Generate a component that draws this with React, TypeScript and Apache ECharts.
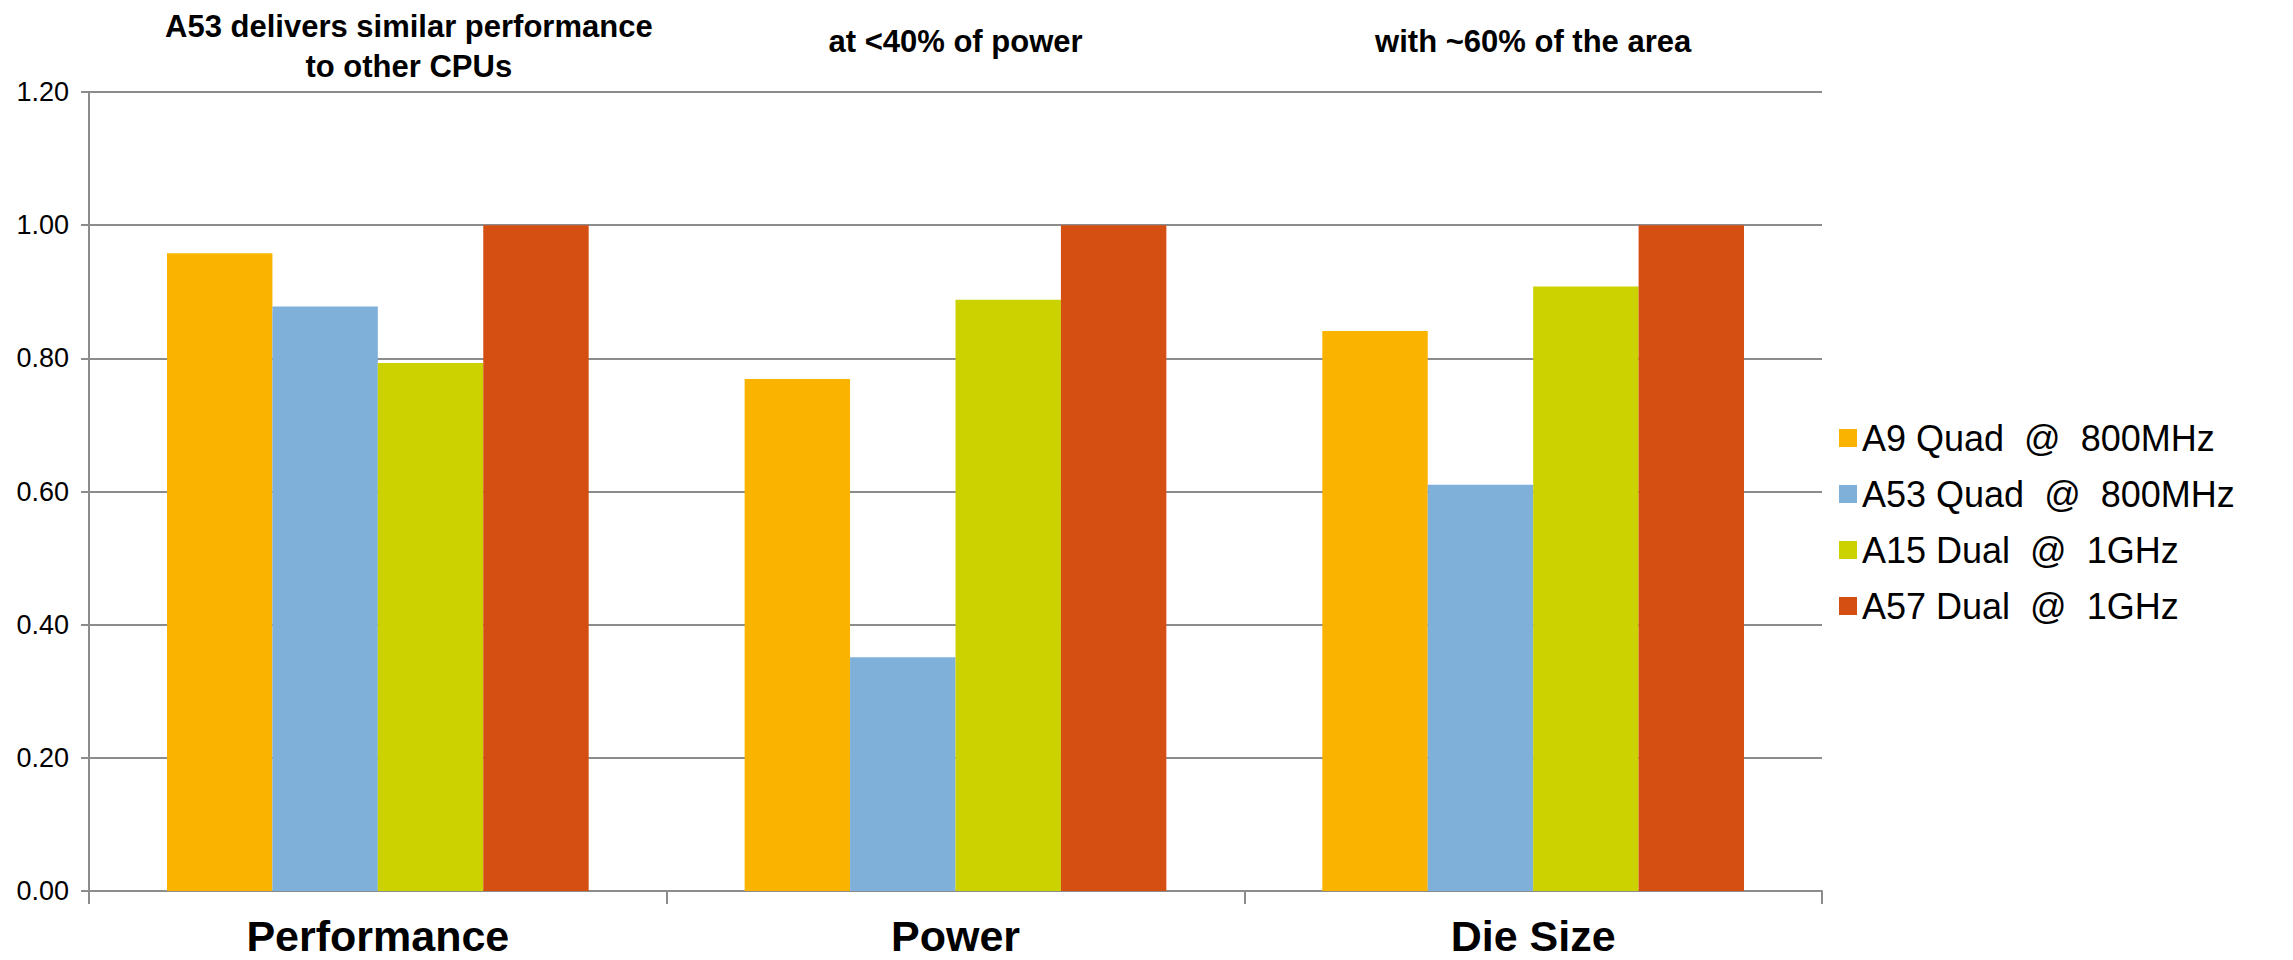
import React, { useEffect, useRef } from "react";
import * as echarts from "echarts";

const categories = ["Performance", "Power", "Die Size"];
const seriesNames = ["A9 Quad  @  800MHz", "A53 Quad  @  800MHz", "A15 Dual  @  1GHz", "A57 Dual  @  1GHz"];
const a9Values = [0.958, 0.769, 0.841];
const a53Values = [0.878, 0.351, 0.61];
const a15Values = [0.793, 0.888, 0.908];
const a57Values = [1.0, 1.0, 1.0];
const colors = ["#FAB400", "#7EB0DA", "#CCD100", "#D54F12"];
const annotations = [
  "A53 delivers similar performance\nto other CPUs",
  "at <40% of power",
  "with ~60% of the area",
];

const FONT = '"Liberation Sans", Arial, sans-serif';

export default function App() {
  const ref = useRef<HTMLDivElement>(null);
  useEffect(() => {
    if (!ref.current) return;
    const chart = echarts.init(ref.current, undefined, { renderer: "svg" });
    const gridLeft = 89;
    const gridRight = 471;
    const width = 2293;
    const plotW = width - gridLeft - gridRight;
    const catW = plotW / categories.length;
    const annX = [gridLeft + catW * 0.5 + 31, gridLeft + catW * 1.5, gridLeft + catW * 2.5];
    const annY = [46, 41, 41];
    const values = [a9Values, a53Values, a15Values, a57Values];
    chart.setOption({
      animation: false,
      textStyle: { fontFamily: FONT },
      grid: { left: gridLeft, right: gridRight, top: 92, bottom: 69, containLabel: false },
      legend: {
        orient: "vertical",
        left: 1834,
        top: 415,
        itemWidth: 18,
        itemHeight: 18,
        itemGap: 20,
        icon: "rect",
        textStyle: {
          fontFamily: FONT,
          fontSize: 36,
          lineHeight: 35,
          color: "#000",
          padding: [0, 0, 0, 0],
        },
        data: seriesNames,
      },
      xAxis: {
        type: "category",
        data: categories,
        axisLine: { show: true, lineStyle: { color: "#8C8C8C", width: 2 } },
        axisTick: { show: true, length: 13, lineStyle: { color: "#8C8C8C", width: 2 } },
        axisLabel: {
          margin: 23,
          fontFamily: FONT,
          fontSize: 43,
          fontWeight: "bold",
          color: "#000",
        },
      },
      yAxis: {
        type: "value",
        min: 0,
        max: 1.2,
        interval: 0.2,
        axisLine: { show: true, lineStyle: { color: "#8C8C8C", width: 2 } },
        axisTick: { show: true, length: 8, lineStyle: { color: "#8C8C8C", width: 2 } },
        splitLine: { show: true, lineStyle: { color: "#8C8C8C", width: 2 } },
        axisLabel: {
          margin: 20,
          fontFamily: FONT,
          fontSize: 27,
          color: "#000",
          formatter: (v: number) => v.toFixed(2),
        },
      },
      series: seriesNames.map((name, i) => ({
        name,
        type: "bar",
        data: values[i],
        barGap: "0%",
        barCategoryGap: "27%",
        itemStyle: { color: colors[i] },
      })),
      graphic: annotations.map((t, i) => ({
        type: "text",
        x: annX[i],
        y: annY[i],
        style: {
          text: t,
          font: `bold 31px ${FONT}`,
          fill: "#000",
          textAlign: "center",
          textVerticalAlign: "middle",
          align: "center",
          verticalAlign: "middle",
          lineHeight: 40,
        },
      })),
    });
    return () => chart.dispose();
  }, []);
  return (
    <div
      ref={ref}
      style={{ position: "absolute", left: 0, top: 0, width: 2293, height: 960, background: "#fff" }}
    />
  );
}
